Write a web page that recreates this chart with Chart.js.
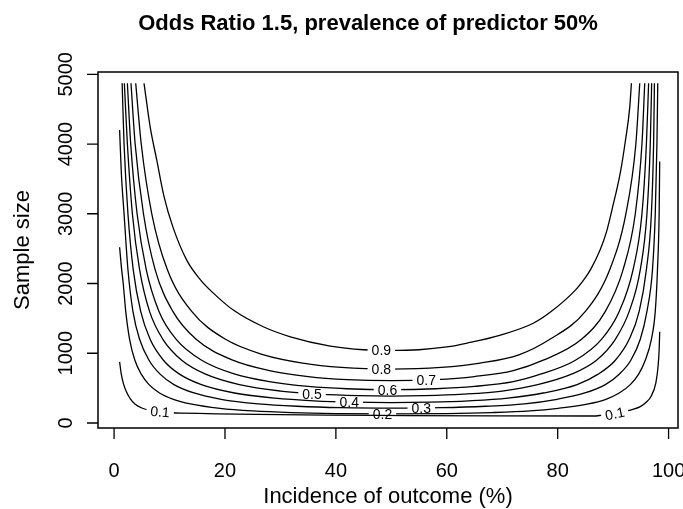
<!DOCTYPE html>
<html>
<head>
<meta charset="utf-8">
<script src="https://cdn.jsdelivr.net/npm/chart.js@4.4.1/dist/chart.umd.min.js"></script>
<style>
  html, body { margin: 0; padding: 0; background: #fff; }
  canvas { display: block; }
</style>
</head>
<body>
<canvas id="powerChart" width="683" height="509"></canvas>
<script>
// --- Data: [incidence %, sample size] along each power contour ---
const chartTitle = 'Odds Ratio 1.5, prevalence of predictor 50%';
const incidenceTicks = [0, 20, 40, 60, 80, 100];
const sampleTicks = [0, 1000, 2000, 3000, 4000, 5000];
const powerLevels = ['0.1', '0.2', '0.3', '0.4', '0.5', '0.6', '0.7', '0.8', '0.9'];

const power01 = [[1.0, 875], [1.3, 700], [1.7, 560], [2.2, 450], [2.9, 350], [3.8, 270], [5.0, 215], [6.5, 180], [8.3, 160], [10.0, 148], [12.0, 140],
                 [86.5, 100], [88.0, 112], [90.0, 130], [91.8, 160], [93.1, 186], [94.9, 234], [96.0, 300], [96.8, 377], [97.7, 573], [98.1, 807], [98.3, 1050], [98.4, 1308]];
const power02 = [[1.0, 2520], [1.3, 2250], [1.65, 2000], [2.1, 1600], [2.8, 1200], [3.75, 900], [4.9, 700], [6.3, 550], [8.2, 430], [10.7, 340], [14.0, 270], [19.1, 210], [25.0, 173], [32.0, 149], [40.0, 135], [50.0, 130],
                 [60.0, 135], [68.0, 149], [75.0, 173], [80.1, 210], [85.3, 270], [88.7, 340], [91.1, 430], [93.1, 550], [94.6, 700], [95.8, 900], [96.9, 1200], [97.6, 1600], [98.0, 2200], [98.3, 3000], [98.4, 3750]];
const power03 = [[1.0, 4200], [1.3, 3600], [1.8, 3000], [2.5, 2200], [3.4, 1600], [4.6, 1200], [6.3, 900], [8.3, 700], [10.8, 550], [14.4, 430], [19.3, 340], [26.0, 275], [33.0, 240], [41.0, 219], [50.0, 212],
                 [59.0, 219], [67.0, 240], [74.0, 275], [79.9, 340], [84.9, 430], [88.6, 550], [91.1, 700], [93.2, 900], [94.9, 1200], [96.1, 1600], [97.1, 2200], [97.6, 3000], [97.9, 4000], [98.05, 4871]];
const power04 = [[1.45, 4871], [1.8, 4000], [2.5, 3000], [3.45, 2200], [4.8, 1600], [6.5, 1200], [8.9, 900], [11.8, 700], [15.75, 550], [21.7, 430], [29.0, 355], [36.0, 317], [43.0, 298], [50.0, 292],
                 [57.0, 298], [64.0, 317], [71.0, 355], [77.4, 430], [83.5, 550], [87.3, 700], [90.4, 900], [92.9, 1200], [94.7, 1600], [96.0, 2200], [96.9, 3000], [97.3, 4000], [97.45, 4871]];
const power05 = [[1.85, 4871], [2.4, 4000], [3.3, 3000], [4.6, 2200], [6.4, 1600], [8.8, 1200], [12.2, 900], [16.5, 700], [22.6, 550], [30.0, 458], [37.0, 413], [44.0, 391], [50.0, 385],
                 [56.0, 391], [63.0, 413], [70.0, 458], [76.4, 550], [82.5, 700], [87.0, 900], [90.4, 1200], [92.9, 1600], [94.9, 2200], [96.1, 3000], [96.7, 4000], [96.95, 4871]];
const power06 = [[2.4, 4871], [3.0, 4000], [4.15, 3000], [5.8, 2200], [8.1, 1600], [11.2, 1200], [15.8, 900], [21.8, 700], [28.0, 593], [35.0, 525], [42.0, 491], [50.0, 478],
                 [58.0, 491], [65.0, 525], [72.0, 593], [76.9, 700], [83.2, 900], [87.9, 1200], [91.1, 1600], [93.6, 2200], [95.2, 3000], [96.0, 4000], [96.4, 4871]];
const power07 = [[3.05, 4871], [3.8, 4000], [5.3, 3000], [7.4, 2200], [10.6, 1600], [14.8, 1200], [21.4, 900], [28.0, 751], [35.0, 666], [42.0, 622], [50.0, 606],
                 [58.0, 622], [65.0, 666], [72.0, 751], [77.4, 900], [84.3, 1200], [88.6, 1600], [91.8, 2200], [94.0, 3000], [95.2, 4000], [95.7, 4871]];
const power08 = [[3.9, 4871], [4.9, 4000], [6.8, 3000], [9.6, 2200], [14.0, 1600], [20.1, 1200], [27.0, 977], [34.0, 858], [41.0, 796], [50.0, 772],
                 [59.0, 796], [66.0, 858], [73.0, 977], [78.6, 1200], [85.0, 1600], [89.4, 2200], [92.3, 3000], [94.1, 4000], [94.8, 4871]];
const power09 = [[5.4, 4871], [6.5, 4250], [7.7, 3768], [9.0, 3250], [10.6, 2812], [13.1, 2335], [15.5, 2060], [17.9, 1862], [21.5, 1619], [26.9, 1380], [31.8, 1236], [39.0, 1103], [45.0, 1050], [50.0, 1040],
                 [55.0, 1050], [60.0, 1090], [63.7, 1146], [69.7, 1261], [75.6, 1430], [78.7, 1590], [83.2, 1905], [84.6, 2040], [86.0, 2210], [87.7, 2490], [88.8, 2740], [89.8, 3060], [91.3, 3590], [92.2, 4040], [93.0, 4530], [93.3, 4871]];

const contours = [power01, power02, power03, power04, power05, power06, power07, power08, power09];

// where each contour carries its label (level index, incidence, sample size, tilt in degrees)
const labelSpots = [
    { level: 0, x: 8.3, n: 160, rot: 5 },
    { level: 0, x: 90.3, n: 134, rot: -12 },
    { level: 1, x: 48.4, n: 130, rot: 0 },
    { level: 2, x: 55.4, n: 216, rot: 0 },
    { level: 3, x: 42.4, n: 299, rot: 0 },
    { level: 4, x: 35.7, n: 420, rot: 0 },
    { level: 5, x: 49.3, n: 478, rot: 0 },
    { level: 6, x: 56.3, n: 618, rot: 0 },
    { level: 7, x: 48.2, n: 776, rot: 0 },
    { level: 8, x: 48.2, n: 1042, rot: 0 }
];

const FONT = '"Liberation Sans", Arial, Helvetica, sans-serif';

// --- Helpers ---
function labelBox(chart, spot) {
    const ctx = chart.ctx;
    ctx.save();
    ctx.font = `14px ${FONT}`;
    const w = ctx.measureText(powerLevels[spot.level]).width + 8;
    ctx.restore();
    return {
        cx: chart.scales.x.getPixelForValue(spot.x),
        cy: chart.scales.y.getPixelForValue(spot.n),
        w: w,
        h: 12,
        rot: spot.rot * Math.PI / 180
    };
}

// cut a hole in the contour line where its label sits
const contourLabels = {
    id: 'contourLabels',
    beforeDatasetDraw(chart, args) {
        const ctx = chart.ctx;
        ctx.save();
        const spots = labelSpots.filter(s => s.level === args.index);
        if (!spots.length) return;
        ctx.beginPath();
        ctx.rect(0, 0, chart.width, chart.height);
        spots.forEach(s => {
            const b = labelBox(chart, s);
            const c = Math.cos(b.rot), sn = Math.sin(b.rot);
            const pts = [[-b.w / 2, -b.h / 2], [b.w / 2, -b.h / 2], [b.w / 2, b.h / 2], [-b.w / 2, b.h / 2]]
                .map(([a, d]) => [b.cx + a * c - d * sn, b.cy + a * sn + d * c]);
            ctx.moveTo(pts[0][0], pts[0][1]);
            pts.slice(1).forEach(p => ctx.lineTo(p[0], p[1]));
            ctx.closePath();
        });
        ctx.clip('evenodd');
    },
    afterDatasetDraw(chart) {
        chart.ctx.restore();
    },
    afterDatasetsDraw(chart) {
        const ctx = chart.ctx;
        ctx.save();
        ctx.fillStyle = '#000';
        ctx.font = `14px ${FONT}`;
        ctx.textAlign = 'center';
        ctx.textBaseline = 'middle';
        labelSpots.forEach(s => {
            const b = labelBox(chart, s);
            ctx.save();
            ctx.translate(b.cx, b.cy);
            ctx.rotate(b.rot);
            ctx.fillText(powerLevels[s.level], 0, 1);
            ctx.restore();
        });
        ctx.restore();
    }
};

// R-style frame, ticks and text
const frame = {
    id: 'frame',
    afterDraw(chart) {
        const { ctx, chartArea: a, scales: { x, y } } = chart;
        ctx.save();
        ctx.strokeStyle = '#000';
        ctx.lineWidth = 1.5;
        ctx.strokeRect(a.left, a.top, a.right - a.left, a.bottom - a.top);

        ctx.lineWidth = 1.3;
        ctx.beginPath();
        incidenceTicks.forEach(v => {
            const px = x.getPixelForValue(v);
            ctx.moveTo(px, a.bottom);
            ctx.lineTo(px, a.bottom + 11);
        });
        sampleTicks.forEach(v => {
            const py = y.getPixelForValue(v);
            ctx.moveTo(a.left, py);
            ctx.lineTo(a.left - 11, py);
        });
        ctx.stroke();

        ctx.fillStyle = '#000';
        ctx.textAlign = 'center';
        ctx.textBaseline = 'alphabetic';
        ctx.font = `20px ${FONT}`;
        incidenceTicks.forEach(v => ctx.fillText(String(v), x.getPixelForValue(v), 477));
        sampleTicks.forEach(v => {
            ctx.save();
            ctx.translate(72, y.getPixelForValue(v));
            ctx.rotate(-Math.PI / 2);
            ctx.fillText(String(v), 0, 0);
            ctx.restore();
        });

        ctx.font = `22px ${FONT}`;
        ctx.fillText('Incidence of outcome (%)', (a.left + a.right) / 2, 503);
        ctx.save();
        ctx.translate(29, (a.top + a.bottom) / 2);
        ctx.rotate(-Math.PI / 2);
        ctx.fillText('Sample size', 0, 0);
        ctx.restore();

        ctx.font = `bold 22px ${FONT}`;
        ctx.fillText(chartTitle, 368, 30);
        ctx.restore();
    }
};

// --- Chart ---
const ctx = document.getElementById('powerChart').getContext('2d');
new Chart(ctx, {
    type: 'scatter',
    data: {
        datasets: contours.map((pts, i) => ({
            label: powerLevels[i],
            data: pts.map(([inc, n]) => ({ x: inc, y: n })),
            showLine: true,
            borderColor: '#000',
            borderWidth: 1.3,
            pointRadius: 0,
            fill: false,
            cubicInterpolationMode: 'monotone'
        }))
    },
    options: {
        responsive: false,
        animation: false,
        layout: { padding: { left: 98, right: 5, top: 72, bottom: 81 } },
        plugins: {
            legend: { display: false },
            tooltip: { enabled: false },
            title: { display: false }
        },
        scales: {
            x: { type: 'linear', min: -2.9, max: 101.7, display: false },
            y: { type: 'linear', min: -72, max: 5033, display: false }
        }
    },
    plugins: [contourLabels, frame]
});
</script>
</body>
</html>
